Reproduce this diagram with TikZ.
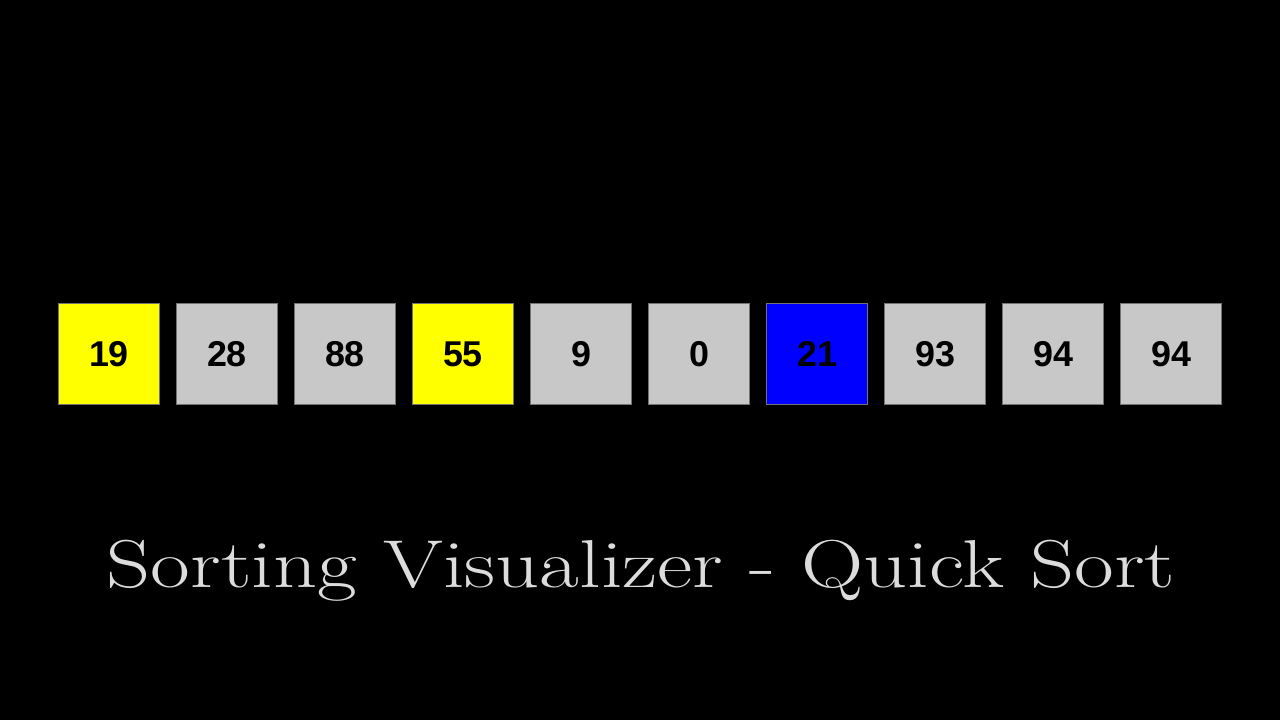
\documentclass[tikz,border=0pt]{standalone}
\usepackage{fontspec}
\newfontfamily\numfont{Liberation Sans}
\usepackage{tikz}
\usetikzlibrary{positioning}
\definecolor{cellgray}{HTML}{C8C8C8}
\definecolor{titlegray}{HTML}{DCDCDC}
\definecolor{markyellow}{HTML}{FFFF00}
\definecolor{pivotblue}{HTML}{0000FF}
\tikzset{cell/.style={draw=black!55, line width=0.8bp, fill=cellgray,
    minimum size=101bp, inner sep=0pt,
    font=\numfont\bfseries\fontsize{36}{36}\selectfont, text=black}}

\begin{document}
\begin{tikzpicture}[x=1bp, y=1bp]

  \newcommand\Step{118};
  \newcommand\Row{366};

  \fill[black] (0,0) rectangle (1280,720);
  \useasboundingbox (0,0) rectangle (1280,720);

  % the array as it stands in this pass
  \foreach \val/\col [count=\i from 0] in
    {19/markyellow, 28/cellgray, 88/cellgray, 55/markyellow, 9/cellgray,
     0/cellgray, 21/pivotblue, 93/cellgray, 94/cellgray, 94/cellgray}
    \node[cell, fill=\col] (b\i) at (109+\i*\Step, \Row) {\val};

  % \node[above=20bp of b6, text=white] {pivot};

  \node[text=titlegray, anchor=base, inner sep=0pt, xscale=1.275,
    font=\fontsize{68}{72}\selectfont] (title) at (641, 132)
    {Sorting Visualizer - Quick Sort};

\end{tikzpicture}
\end{document}
